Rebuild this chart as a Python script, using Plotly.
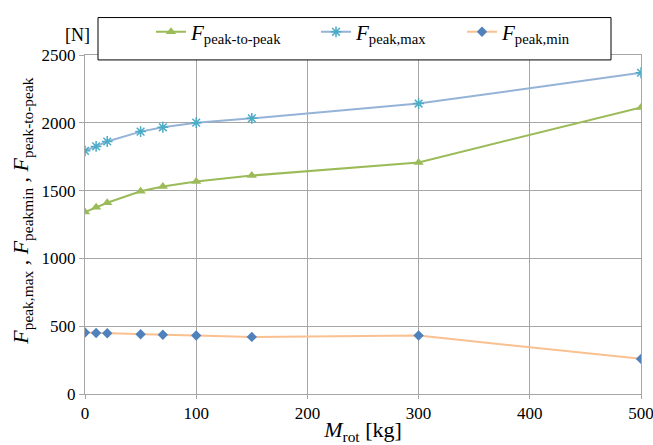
import plotly.graph_objects as go

m_rot = [0, 10, 20, 50, 70, 100, 150, 300, 500]
f_p2p = [1342, 1378, 1410, 1495, 1531, 1567, 1611, 1708, 2113]
f_max = [1793, 1826, 1862, 1935, 1967, 2001, 2033, 2142, 2369]
f_min = [453, 450, 448, 441, 437, 431, 421, 431, 259]

x_ticks = [0, 100, 200, 300, 400, 500]
y_ticks = [0, 500, 1000, 1500, 2000, 2500]

FONT = "Liberation Serif, Times New Roman, serif"
L, R, T, B = 85, 641, 50, 394
PW, PH = R - L, B - T

def px(x):
    return (x - L) / PW

def py(y):
    return (B - y) / PH

def lbl(sub):
    return "<i>F</i><sub>%s</sub>" % sub

fig = go.Figure()
fig.add_trace(go.Scatter(x=m_rot, y=f_p2p, mode="lines+markers", name=lbl("peak-to-peak"),
                         legend="legend",
                         line=dict(color="#9BBB59", width=2),
                         marker=dict(symbol="triangle-up", size=9, color="#9BBB59")))
fig.add_trace(go.Scatter(x=m_rot, y=f_max, mode="lines+markers", name=lbl("peak,max"),
                         legend="legend2",
                         line=dict(color="#95B3D7", width=2),
                         marker=dict(symbol="asterisk-open", size=9, color="#4BACC6",
                                     line=dict(color="#4BACC6", width=1.5))))
fig.add_trace(go.Scatter(x=m_rot, y=f_min, mode="lines+markers", name=lbl("peak,min"),
                         legend="legend3",
                         line=dict(color="#FAC090", width=2),
                         marker=dict(symbol="diamond", size=8, color="#4F81BD")))

# legend box
fig.add_shape(type="rect", xref="paper", yref="paper",
              x0=px(98), x1=px(611), y0=py(55), y1=py(12),
              line=dict(color="black", width=1), fillcolor="white", layer="above")

fig.add_annotation(text="[N]", xref="paper", yref="paper",
                   x=px(77), y=py(30), xanchor="center", yanchor="middle", showarrow=False,
                   font=dict(size=18, family=FONT, color="black"))

fig.add_annotation(text="<i>F</i><sub>peak,max</sub> , <i>F</i><sub>peakmin</sub> , <i>F</i><sub>peak-to-peak</sub>",
                   xref="paper", yref="paper", x=px(22), y=py(209),
                   xanchor="center", yanchor="middle", textangle=-90, showarrow=False,
                   font=dict(size=22, family=FONT, color="black"))

def leg(xleft):
    return dict(orientation="h", x=px(xleft), y=py(6), xanchor="left", yanchor="top",
                bgcolor="rgba(0,0,0,0)", borderwidth=0,
                font=dict(size=21, family=FONT, color="black"), itemwidth=30)

fig.update_layout(
    width=653, height=445,
    margin=dict(l=L, r=653 - R, t=T, b=445 - B),
    paper_bgcolor="white", plot_bgcolor="white",
    font=dict(family=FONT, size=17, color="black"),
    showlegend=True,
    legend=leg(151), legend2=leg(316), legend3=leg(462),
    xaxis=dict(range=[0, 500], tickvals=x_ticks, showgrid=True, gridcolor="#A6A6A6",
               gridwidth=1, showline=True, linecolor="#A6A6A6", mirror=True,
               zeroline=False, ticks="outside", ticklen=4, tickcolor="#A6A6A6",
               automargin=False, ticklabeloverflow="allow",
               tickfont=dict(size=17, family=FONT, color="black"),
               title=dict(text="<i>M</i><sub>rot</sub> [kg]",
                          font=dict(size=22, family=FONT, color="black"), standoff=8)),
    yaxis=dict(range=[0, 2500], tickvals=y_ticks, showgrid=True, gridcolor="#A6A6A6",
               gridwidth=1, showline=True, linecolor="#A6A6A6", mirror=True,
               zeroline=False, ticks="outside", ticklen=5, tickcolor="#A6A6A6",
               automargin=False, ticklabeloverflow="allow",
               tickfont=dict(size=17, family=FONT, color="black")),
)

fig.write_html("out.html")
